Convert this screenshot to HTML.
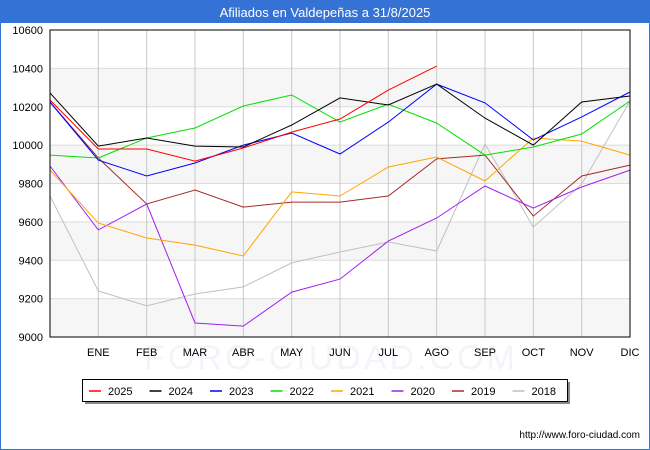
<!DOCTYPE html>
<html><head><meta charset="utf-8"><style>
body{margin:0;background:#fff;font-family:"Liberation Sans","DejaVu Sans",sans-serif}
#wrap{position:relative;width:648px;height:448px;border:1px solid #3572d6;overflow:hidden}
</style></head><body>
<div id="wrap">
<svg id="chart" width="648" height="448"></svg>
</div>
<script>
const months = ["", "ENE","FEB","MAR","ABR","MAY","JUN","JUL","AGO","SEP","OCT","NOV","DIC"];
const yTicks = [9000,9200,9400,9600,9800,10000,10200,10400,10600];
const seriesNames = ["2025","2024","2023","2022","2021","2020","2019","2018"];
const seriesColors = ["#ff0000","#000000","#0000ff","#00e000","#ffa500","#a020f0","#a52a2a","#c0c0c0"];
const s2025 = [10235,9980,9980,9917,9985,10068,10136,10287,10412];
const s2024 = [10272,9995,10037,9995,9990,10105,10246,10209,10318,10141,10000,10225,10256];
const s2023 = [10225,9922,9839,9907,10000,10063,9954,10120,10318,10220,10027,10147,10277];
const s2022 = [9948,9933,10037,10089,10204,10261,10120,10214,10115,9948,9990,10058,10230];
const s2021 = [9870,9594,9516,9479,9422,9756,9735,9886,9938,9813,10037,10021,9948];
const s2020 = [9891,9558,9693,9073,9057,9234,9302,9500,9620,9787,9672,9782,9870];
const s2019 = [10225,9933,9693,9766,9677,9703,9703,9735,9928,9948,9630,9839,9896];
const s2018 = [9735,9240,9162,9224,9261,9386,9443,9495,9448,10006,9573,9797,10230];
const allSeries = [s2025,s2024,s2023,s2022,s2021,s2020,s2019,s2018];

const NS="http://www.w3.org/2000/svg";
const svg=document.getElementById('chart');
const L=49,R=629,T=29,B=336,ymin=9000,ymax=10600;
const xs=i=>L+i*(R-L)/12;
const ys=v=>B-(v-ymin)/(ymax-ymin)*(B-T);
function el(t,a,p){const e=document.createElementNS(NS,t);for(const k in a)e.setAttribute(k,a[k]);(p||svg).appendChild(e);return e;}

const tb=el('rect',{x:0,y:0,width:648,height:22,fill:'#3572d6'});


const tt=el('text',{x:324,y:16,'text-anchor':'middle','font-size':13,fill:'#fff'});
tt.textContent="Afiliados en Valdepeñas a 31/8/2025";



for(let i=0;i<yTicks.length-1;i++){
  if(i%2===0){const b=el('rect',{x:L,y:ys(yTicks[i+1]),width:R-L,height:ys(yTicks[i])-ys(yTicks[i+1]),fill:'#f6f6f6'});
  
  }
}
const wm=el('text',{x:330,y:368,'text-anchor':'middle','font-size':34,fill:'#f3f4fa','letter-spacing':3});
wm.textContent="FORO-CIUDAD.COM";


yTicks.forEach(v=>{
  const g=el('line',{x1:L,x2:R,y1:ys(v),y2:ys(v),stroke:'#dcdcdc'});
  
  
  const t=el('text',{x:L-7,y:ys(v)+4,'text-anchor':'end','font-size':11,fill:'#000'});
  t.textContent=v;
  
  
});
months.forEach((m,i)=>{
  if(i===0)return;
  const g=el('line',{x1:xs(i),x2:xs(i),y1:T,y2:B,stroke:'#c8c8c8'});
  
  
  const t=el('text',{x:xs(i),y:B+19,'text-anchor':'middle','font-size':11,fill:'#000'});
  t.textContent=m;
  
  
});

for(let s=allSeries.length-1;s>=0;s--){
  const d=allSeries[s].map((v,i)=>(i?'L':'M')+xs(i).toFixed(1)+','+ys(v).toFixed(1)).join(' ');
  const p=el('path',{d:d,fill:'none',stroke:seriesColors[s],'stroke-width':1});
  
  
}
const fr=el('rect',{x:L,y:T,width:R-L,height:B-T,fill:'none',stroke:'#000'});



const sh=el('rect',{x:84,y:381,width:485,height:22,fill:'#888'});


const lb=el('rect',{x:81.5,y:378.5,width:485,height:22,fill:'#fff',stroke:'#000'});


seriesNames.forEach((n,i)=>{
  const x=88+i*60.5;
  const ln=el('line',{x1:x,x2:x+12,y1:390,y2:390,stroke:seriesColors[i],'stroke-width':1.5});
  
  
  const t=el('text',{x:x+19,y:394,'font-size':11,fill:'#000'});
  t.textContent=n;
  
  
});
const url=el('text',{x:639,y:437,'text-anchor':'end','font-size':10,fill:'#000'});
url.textContent="http://www.foro-ciudad.com";


</script>
</body></html>
